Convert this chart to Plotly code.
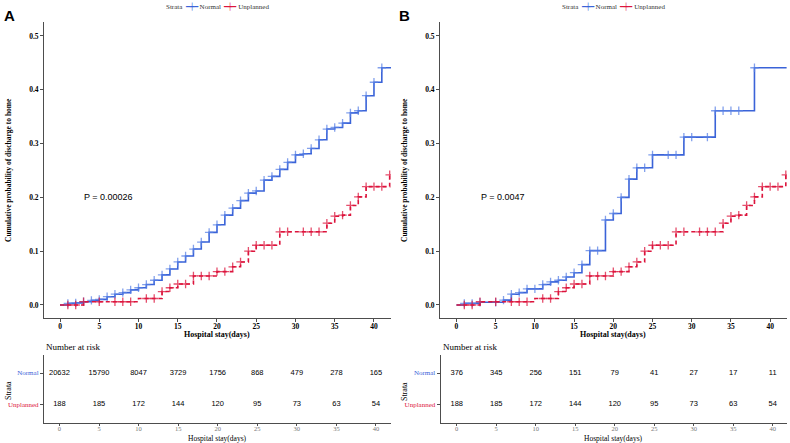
import numpy as np
import plotly.graph_objects as go

# ---------------- data ----------------
# Panel A, Normal strata: step times (days) and cumulative probability
a_norm_t = [0, 1, 2, 3, 4, 5, 6, 7, 8, 9, 10, 11, 12, 13, 14, 15, 16, 17, 18, 19, 20,
            21, 22, 23, 24, 25, 26, 27, 28, 29, 30, 31, 32, 33, 34, 35, 36, 37, 38, 39, 40, 41, 42.2]
a_norm_v = [0, 0.003, 0.004, 0.006, 0.0086, 0.0105, 0.0154, 0.020, 0.023, 0.028, 0.032, 0.038,
            0.046, 0.056, 0.067, 0.080, 0.091, 0.104, 0.117, 0.135, 0.149, 0.167, 0.180, 0.194,
            0.208, 0.212, 0.232, 0.239, 0.252, 0.265, 0.279, 0.281, 0.291, 0.307, 0.327, 0.330,
            0.338, 0.357, 0.361, 0.389, 0.414, 0.441, 0.441]
a_norm_cens = list(range(1, 42))

# Panel B, Normal strata
b_norm_t = [0, 1, 3, 6, 7, 8, 9, 11, 12, 13, 14, 15, 16, 17, 19, 20, 21, 22, 23, 25, 29, 33, 38, 42.1]
b_norm_v = [0, 0.003, 0.005, 0.009, 0.020, 0.023, 0.030, 0.038, 0.043, 0.046, 0.052, 0.060,
            0.075, 0.101, 0.158, 0.170, 0.200, 0.234, 0.255, 0.279, 0.312, 0.361, 0.441, 0.441]
b_norm_cens = [1, 2, 3, 5, 6, 7, 8, 9, 10, 11, 12, 13, 14, 15, 16, 17, 18, 19, 20, 21, 22, 23,
               24, 25, 27, 28, 29, 30, 32, 33, 34, 35, 36, 38]

# Unplanned strata (same in both panels)
unpl_t = [0, 3, 10, 13, 14, 15, 17, 20, 22, 23, 24, 25, 28, 34, 35, 36, 37, 38, 39, 42]
unpl_v = [0, 0.006, 0.012, 0.025, 0.032, 0.039, 0.054, 0.062, 0.071, 0.080, 0.100, 0.111,
          0.136, 0.152, 0.165, 0.167, 0.185, 0.201, 0.220, 0.242]
unpl_cens = [1, 2, 3, 5, 7, 8, 9, 11, 12, 13, 14, 15, 16, 17, 18, 19, 20, 21, 22, 23, 24, 25,
             26, 27, 28, 29, 31, 32, 33, 34, 35, 36, 37, 38, 39, 40, 41, 42]

# Number at risk
risk_t = [0, 5, 10, 15, 20, 25, 30, 35, 40]
a_norm_risk = [20632, 15790, 8047, 3729, 1756, 868, 479, 278, 165]
b_norm_risk = [376, 345, 256, 151, 79, 41, 27, 17, 11]
unpl_risk = [188, 185, 172, 144, 120, 95, 73, 63, 54]

p_values = ["P = 0.00026", "P = 0.0047"]
panel_labels = ["A", "B"]
strata = ["Normal", "Unplanned"]
y_ticks = [0.0, 0.1, 0.2, 0.3, 0.4, 0.5]
x_ticks = [0, 5, 10, 15, 20, 25, 30, 35, 40]

# ---------------- style ----------------
BLUE = "#3A63D8"
BLUE_M = "rgba(90,130,230,0.75)"
RED = "#DC143C"
RED_M = "rgba(220,20,60,0.75)"
SERIF = "Liberation Serif"
SANS = "Liberation Sans"
AX = "#4d4d4d"
W, H = 790, 443


def px_x(p):
    return p / W


def px_y(p):
    return 1 - p / H


def step_at(times, vals, ts):
    times = np.asarray(times, float)
    vals = np.asarray(vals, float)
    idx = np.searchsorted(times, np.asarray(ts, float), side="right") - 1
    return vals[idx]


fig = go.Figure()

panels = [
    dict(xa="x", ya="y", nt=a_norm_t, nv=a_norm_v, nc=a_norm_cens),
    dict(xa="x2", ya="y2", nt=b_norm_t, nv=b_norm_v, nc=b_norm_cens),
]

for p in panels:
    fig.add_trace(go.Scatter(x=p["nt"], y=p["nv"], mode="lines", line=dict(color=BLUE, width=1.6, shape="hv"),
                             xaxis=p["xa"], yaxis=p["ya"], showlegend=False, hoverinfo="skip"))
    fig.add_trace(go.Scatter(x=p["nc"], y=step_at(p["nt"], p["nv"], p["nc"]), mode="markers",
                             marker=dict(symbol="cross-thin", size=6, line=dict(color=BLUE_M, width=1.3)),
                             xaxis=p["xa"], yaxis=p["ya"], showlegend=False, hoverinfo="skip"))
    fig.add_trace(go.Scatter(x=unpl_t, y=unpl_v, mode="lines",
                             line=dict(color=RED, width=1.6, shape="hv", dash="4px,3px"),
                             xaxis=p["xa"], yaxis=p["ya"], showlegend=False, hoverinfo="skip"))
    fig.add_trace(go.Scatter(x=unpl_cens, y=step_at(unpl_t, unpl_v, unpl_cens), mode="markers",
                             marker=dict(symbol="cross-thin", size=6, line=dict(color=RED_M, width=1.3)),
                             xaxis=p["xa"], yaxis=p["ya"], showlegend=False, hoverinfo="skip"))

# risk tables
for xa, ya, nrisk in [("x3", "y3", a_norm_risk), ("x4", "y4", b_norm_risk)]:
    fig.add_trace(go.Scatter(x=risk_t, y=[2] * len(risk_t), mode="text", text=[str(v) for v in nrisk],
                             textfont=dict(family=SANS, size=7.5, color="black"),
                             xaxis=xa, yaxis=ya, showlegend=False, hoverinfo="skip"))
    fig.add_trace(go.Scatter(x=risk_t, y=[1] * len(risk_t), mode="text", text=[str(v) for v in unpl_risk],
                             textfont=dict(family=SANS, size=7.5, color="black"),
                             xaxis=xa, yaxis=ya, showlegend=False, hoverinfo="skip"))

main_y = dict(range=[-0.0242, 0.526], domain=[px_y(318), px_y(22)], tickvals=y_ticks,
              ticktext=[f"{v:.1f}" for v in y_ticks],
              showline=True, linecolor=AX, linewidth=1, ticks="outside", ticklen=3, tickcolor=AX,
              showgrid=False, zeroline=False,
              tickfont=dict(family=SERIF, size=7.5, color="black", weight="bold"))
main_x_common = dict(tickvals=x_ticks, showline=True, linecolor=AX, linewidth=1, ticks="outside",
                     ticklen=3, tickcolor=AX, showgrid=False, zeroline=False, ticklabelstandoff=-2,
                     tickfont=dict(family=SERIF, size=7.5, color="black", weight="bold"))

risk_y_common = dict(range=[0.39, 2.58], domain=[px_y(423), px_y(355)], tickvals=[2, 1],
                     ticktext=[f"<span style='color:{BLUE}'>Normal</span>",
                               f"<span style='color:{RED}'>Unplanned</span>"],
                     showline=True, linecolor=AX, linewidth=1, ticks="outside", ticklen=3, tickcolor=AX,
                     showgrid=False, zeroline=False, tickfont=dict(family=SERIF, size=7))
risk_x_common = dict(tickvals=x_ticks, showline=True, linecolor=AX, linewidth=1, ticks="outside",
                     ticklen=2, tickcolor=AX, showgrid=False, zeroline=False, ticklabelstandoff=-3,
                     tickfont=dict(family=SERIF, size=6.5, color="#777777"))

fig.update_layout(
    width=W, height=H, margin=dict(l=0, r=0, t=0, b=0),
    paper_bgcolor="white", plot_bgcolor="white", showlegend=False,
    xaxis=dict(domain=[px_x(44), px_x(391)], range=[-2.04, 42.17], anchor="y", **main_x_common),
    yaxis=dict(anchor="x", **main_y),
    xaxis2=dict(domain=[px_x(440), px_x(787)], range=[-2.1, 42.15], anchor="y2", **main_x_common),
    yaxis2=dict(anchor="x2", **main_y),
    xaxis3=dict(domain=[px_x(44), px_x(391)], range=[-1.95, 41.9], anchor="y3", **risk_x_common),
    yaxis3=dict(anchor="x3", **risk_y_common),
    xaxis4=dict(domain=[px_x(440.7), px_x(787)], range=[-2.03, 41.8], anchor="y4", **risk_x_common),
    yaxis4=dict(anchor="x4", **risk_y_common),
)

legend_text = (f"Strata  <span style='color:{BLUE}'>━┿━</span> {strata[0]}  "
               f"<span style='color:{RED}'>━┿━</span> {strata[1]}")


def center_ann(text, xp, yp, font, **kw):
    d = dict(text=text, x=px_x(xp), y=px_y(yp), xref="paper", yref="paper", xanchor="center",
             yanchor="middle", showarrow=False, font=font)
    d.update(kw)
    return d


ann = []
for i, (cx, xref, yref) in enumerate([(217, "x", "y"), (613, "x2", "y2")]):
    off = 0 if i == 0 else 396
    ann.append(center_ann(legend_text, 217 + off, 6, dict(family=SERIF, size=7, color="#333333")))
    ann.append(center_ann(f"<b>{panel_labels[i]}</b>", 9 + off, 15, dict(family=SANS, size=15, color="black")))
    ann.append(center_ann("<b>Cumulative probability of discharge to home</b>", 8 + off, 170,
                          dict(family=SERIF, size=7.5, color="black"), textangle=-90))
    ann.append(center_ann("<b>Hospital stay(days)</b>", cx, 334, dict(family=SERIF, size=8, color="black")))
    ann.append(dict(text=p_values[i], x=6.2 if i == 0 else 5.9, y=0.2, xref=xref, yref=yref,
                    xanchor="center", yanchor="middle",
                    showarrow=False, font=dict(family=SANS, size=9, color="black")))
    ann.append(center_ann("Number at risk", (44 if i == 0 else 440.7), 346.5,
                          dict(family=SERIF, size=9, color="black"), xanchor="left"))
    ann.append(center_ann("Strata", 8 + off, 391, dict(family=SERIF, size=8, color="black"), textangle=-90))
    ann.append(center_ann("Hospital stay(days)", cx, 438, dict(family=SERIF, size=7.5, color="black")))
fig.update_layout(annotations=ann)

fig.write_html("out.html", config={"displayModeBar": False},
               post_script="document.body.style.margin='0px';document.body.style.overflow='hidden';")
